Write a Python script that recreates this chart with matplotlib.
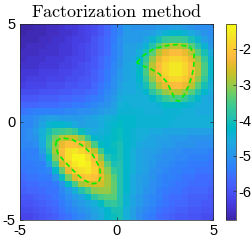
import numpy as np
import matplotlib
matplotlib.use('Agg')
import matplotlib.pyplot as plt
from matplotlib.colors import LinearSegmentedColormap

# log10 indicator on a 30x30 grid, first row is y=5 (top), first column x=-5
indicator = np.array([
    [-6.8,-6.8,-6.7,-6.7,-6.6,-6.6,-6.5,-6.4,-6.4,-6.3,-6.2,-6.1,-5.9,-5.7,-5.4,-5.2,-4.9,-5.0,-5.0,-5.0,-5.0,-4.9,-4.9,-4.8,-4.8,-4.9,-5.0,-5.1,-5.1,-5.1],
    [-6.8,-6.7,-6.7,-6.7,-6.6,-6.6,-6.5,-6.5,-6.4,-6.3,-6.2,-6.1,-5.9,-5.7,-5.4,-5.2,-4.9,-4.9,-4.9,-4.9,-4.8,-4.6,-4.4,-4.3,-4.3,-4.4,-4.6,-4.8,-5.0,-5.1],
    [-6.7,-6.7,-6.7,-6.6,-6.6,-6.5,-6.5,-6.4,-6.3,-6.3,-6.2,-6.0,-5.8,-5.6,-5.4,-5.1,-4.9,-4.9,-4.9,-4.7,-4.4,-4.0,-3.7,-3.6,-3.6,-3.7,-4.0,-4.4,-4.8,-5.0],
    [-6.7,-6.6,-6.6,-6.6,-6.5,-6.5,-6.4,-6.4,-6.3,-6.2,-6.1,-6.0,-5.8,-5.6,-5.3,-5.1,-4.8,-4.8,-4.7,-4.4,-3.9,-3.4,-3.0,-2.8,-2.8,-3.0,-3.4,-3.9,-4.4,-4.9],
    [-6.6,-6.6,-6.6,-6.5,-6.5,-6.5,-6.4,-6.4,-6.3,-6.2,-6.1,-6.0,-5.8,-5.6,-5.3,-5.1,-4.8,-4.8,-4.5,-4.0,-3.4,-2.8,-2.4,-2.2,-2.2,-2.4,-2.8,-3.4,-4.0,-4.6],
    [-6.6,-6.5,-6.5,-6.5,-6.4,-6.4,-6.4,-6.3,-6.2,-6.2,-6.1,-5.9,-5.7,-5.5,-5.3,-5.0,-4.8,-4.7,-4.3,-3.7,-3.0,-2.4,-2.0,-1.8,-1.8,-2.0,-2.4,-3.0,-3.7,-4.4],
    [-6.5,-6.5,-6.5,-6.4,-6.4,-6.4,-6.3,-6.3,-6.2,-6.1,-6.0,-5.9,-5.7,-5.5,-5.2,-5.0,-4.7,-4.6,-4.2,-3.5,-2.8,-2.2,-1.8,-1.6,-1.6,-1.8,-2.2,-2.8,-3.5,-4.3],
    [-6.4,-6.4,-6.4,-6.3,-6.3,-6.3,-6.2,-6.2,-6.1,-6.1,-6.0,-5.8,-5.6,-5.4,-5.2,-4.9,-4.7,-4.6,-4.2,-3.5,-2.8,-2.2,-1.8,-1.6,-1.6,-1.8,-2.2,-2.8,-3.5,-4.3],
    [-6.4,-6.3,-6.3,-6.3,-6.2,-6.2,-6.2,-6.1,-6.1,-6.0,-5.9,-5.8,-5.6,-5.4,-5.1,-4.9,-4.7,-4.6,-4.3,-3.7,-3.0,-2.4,-2.0,-1.8,-1.8,-2.0,-2.4,-3.0,-3.7,-4.4],
    [-6.3,-6.2,-6.2,-6.2,-6.1,-6.1,-6.1,-6.0,-6.0,-5.9,-5.9,-5.7,-5.5,-5.3,-5.1,-4.8,-4.6,-4.6,-4.4,-4.0,-3.4,-2.8,-2.4,-2.2,-2.2,-2.4,-2.8,-3.4,-4.0,-4.5],
    [-6.1,-6.1,-6.1,-6.0,-6.0,-6.0,-5.9,-5.9,-5.8,-5.8,-5.7,-5.6,-5.4,-5.2,-5.0,-4.7,-4.6,-4.6,-4.5,-4.3,-3.8,-3.4,-3.0,-2.8,-2.8,-3.0,-3.4,-3.9,-4.3,-4.6],
    [-5.9,-5.9,-5.9,-5.8,-5.8,-5.8,-5.7,-5.7,-5.6,-5.6,-5.5,-5.4,-5.3,-5.1,-4.9,-4.6,-4.5,-4.5,-4.5,-4.5,-4.3,-4.0,-3.7,-3.5,-3.5,-3.7,-4.0,-4.3,-4.6,-4.7],
    [-5.7,-5.7,-5.7,-5.6,-5.6,-5.6,-5.5,-5.5,-5.4,-5.4,-5.3,-5.2,-5.1,-5.0,-4.8,-4.5,-4.4,-4.5,-4.5,-4.5,-4.5,-4.4,-4.2,-4.2,-4.2,-4.3,-4.4,-4.5,-4.6,-4.6],
    [-5.5,-5.4,-5.3,-5.3,-5.3,-5.3,-5.3,-5.2,-5.2,-5.1,-5.1,-5.0,-4.9,-4.8,-4.7,-4.4,-4.4,-4.4,-4.4,-4.5,-4.5,-4.5,-4.4,-4.4,-4.4,-4.5,-4.5,-4.6,-4.6,-4.6],
    [-5.2,-5.2,-5.1,-4.9,-4.8,-4.8,-4.9,-4.9,-4.9,-4.9,-4.8,-4.7,-4.6,-4.5,-4.4,-4.3,-4.3,-4.3,-4.4,-4.4,-4.4,-4.4,-4.4,-4.4,-4.5,-4.5,-4.5,-4.5,-4.5,-4.5],
    [-5.2,-5.2,-5.0,-4.7,-4.4,-4.3,-4.3,-4.4,-4.6,-4.8,-4.7,-4.7,-4.6,-4.4,-4.3,-4.2,-4.3,-4.3,-4.4,-4.4,-4.4,-4.4,-4.4,-4.5,-4.5,-4.5,-4.5,-4.5,-4.5,-4.5],
    [-5.2,-5.1,-4.9,-4.5,-4.0,-3.7,-3.6,-3.5,-3.7,-4.1,-4.5,-4.6,-4.5,-4.4,-4.2,-4.1,-4.3,-4.4,-4.5,-4.5,-4.6,-4.6,-4.7,-4.7,-4.7,-4.7,-4.8,-4.8,-4.8,-4.8],
    [-5.2,-5.1,-5.0,-4.5,-3.8,-3.2,-2.8,-2.7,-2.7,-3.1,-3.7,-4.3,-4.4,-4.3,-4.2,-4.1,-4.3,-4.4,-4.5,-4.6,-4.7,-4.8,-4.8,-4.9,-4.9,-4.9,-5.0,-5.0,-5.0,-5.0],
    [-5.2,-5.2,-5.1,-4.6,-3.7,-3.0,-2.4,-2.1,-2.1,-2.3,-2.8,-3.5,-4.2,-4.3,-4.1,-4.0,-4.3,-4.4,-4.6,-4.7,-4.7,-4.8,-4.9,-4.9,-5.0,-5.0,-5.0,-5.1,-5.1,-5.1],
    [-5.3,-5.3,-5.3,-4.8,-3.9,-2.9,-2.2,-1.7,-1.6,-1.8,-2.1,-2.7,-3.6,-4.2,-4.2,-4.0,-4.3,-4.5,-4.7,-4.8,-4.8,-4.9,-5.0,-5.1,-5.1,-5.2,-5.2,-5.2,-5.2,-5.3],
    [-5.4,-5.3,-5.3,-5.1,-4.2,-3.1,-2.3,-1.7,-1.4,-1.4,-1.7,-2.2,-3.0,-3.9,-4.1,-4.0,-4.3,-4.5,-4.7,-4.8,-4.9,-5.0,-5.1,-5.1,-5.2,-5.2,-5.3,-5.3,-5.3,-5.4],
    [-5.4,-5.4,-5.3,-5.3,-4.7,-3.6,-2.6,-1.9,-1.6,-1.4,-1.5,-2.0,-2.6,-3.4,-4.0,-3.9,-4.3,-4.5,-4.7,-4.8,-4.9,-5.1,-5.1,-5.2,-5.3,-5.3,-5.4,-5.4,-5.4,-5.5],
    [-5.5,-5.4,-5.4,-5.3,-5.2,-4.3,-3.3,-2.4,-1.9,-1.7,-1.6,-1.9,-2.5,-3.1,-3.7,-3.9,-4.3,-4.5,-4.7,-4.8,-5.0,-5.1,-5.2,-5.3,-5.3,-5.4,-5.4,-5.5,-5.5,-5.5],
    [-5.6,-5.5,-5.5,-5.4,-5.4,-5.0,-4.1,-3.2,-2.5,-2.1,-2.0,-2.1,-2.4,-2.9,-3.4,-3.9,-4.3,-4.6,-4.8,-4.9,-5.0,-5.2,-5.3,-5.3,-5.4,-5.5,-5.5,-5.6,-5.6,-5.6],
    [-5.7,-5.6,-5.6,-5.5,-5.5,-5.4,-5.0,-4.2,-3.5,-2.9,-2.7,-2.6,-2.6,-2.9,-3.3,-3.9,-4.3,-4.6,-4.8,-4.9,-5.1,-5.2,-5.3,-5.4,-5.5,-5.5,-5.6,-5.6,-5.6,-5.7],
    [-5.8,-5.7,-5.7,-5.6,-5.5,-5.5,-5.2,-4.9,-4.5,-3.9,-3.5,-3.1,-3.0,-3.0,-3.3,-3.9,-4.3,-4.6,-4.8,-5.0,-5.1,-5.3,-5.4,-5.5,-5.5,-5.6,-5.7,-5.7,-5.7,-5.8],
    [-5.9,-5.9,-5.8,-5.7,-5.6,-5.5,-5.3,-5.1,-4.9,-4.7,-4.3,-3.8,-3.5,-3.4,-3.4,-3.9,-4.4,-4.7,-4.9,-5.1,-5.2,-5.3,-5.5,-5.6,-5.6,-5.7,-5.8,-5.8,-5.8,-5.9],
    [-6.0,-6.0,-5.9,-5.8,-5.7,-5.6,-5.4,-5.2,-5.0,-4.9,-4.7,-4.5,-4.2,-3.8,-3.7,-3.9,-4.4,-4.7,-4.9,-5.1,-5.2,-5.4,-5.5,-5.6,-5.7,-5.7,-5.8,-5.8,-5.9,-5.9],
    [-6.1,-6.1,-6.0,-5.9,-5.8,-5.7,-5.5,-5.3,-5.2,-5.0,-4.9,-4.7,-4.5,-4.3,-4.0,-4.0,-4.5,-4.8,-5.0,-5.2,-5.3,-5.5,-5.6,-5.7,-5.8,-5.8,-5.9,-5.9,-6.0,-6.0],
    [-6.2,-6.2,-6.1,-6.0,-5.9,-5.8,-5.6,-5.5,-5.3,-5.2,-5.0,-4.8,-4.6,-4.3,-4.1,-4.0,-4.5,-4.8,-5.1,-5.3,-5.4,-5.6,-5.7,-5.8,-5.9,-5.9,-6.0,-6.0,-6.1,-6.1],
])

extent = [-5, 5, -5, 5]
axis_ticks = [-5, 0, 5]
cbar_ticks = [-6, -5, -4, -3, -2]
clim = (-6.8, -1.3)

# boundaries of the two scatterers (green dashed)
obj1_x = [1.05, 1.40, 1.95, 2.60, 3.15, 3.80, 4.02, 4.00, 3.92, 3.75, 3.50, 3.25, 3.05, 2.85, 2.60, 2.22, 1.75, 1.35, 1.05]
obj1_y = [3.03, 3.40, 3.74, 3.90, 3.95, 3.84, 3.46, 2.85, 2.40, 1.88, 1.36, 1.06, 1.12, 1.55, 2.04, 2.45, 2.72, 2.87, 3.03]
obj2_x = [-3.12, -2.86, -2.30, -1.70, -1.22, -0.87, -0.82, -0.95, -1.30, -1.76, -2.30, -2.70, -3.03, -3.15, -3.12]
obj2_y = [-0.98, -0.81, -0.89, -1.24, -1.70, -2.33, -2.80, -3.12, -3.15, -2.92, -2.42, -2.01, -1.62, -1.24, -0.98]

# MATLAB parula (R2014b), 64 entries
parula_rgb = [
    [0.2422, 0.1504, 0.6603], [0.2504, 0.1650, 0.7076], [0.2578, 0.1818, 0.7511], [0.2647, 0.1978, 0.7952],
    [0.2706, 0.2147, 0.8364], [0.2751, 0.2342, 0.8710], [0.2783, 0.2559, 0.8991], [0.2803, 0.2782, 0.9221],
    [0.2813, 0.3006, 0.9414], [0.2810, 0.3228, 0.9579], [0.2795, 0.3447, 0.9717], [0.2760, 0.3667, 0.9829],
    [0.2699, 0.3892, 0.9906], [0.2602, 0.4123, 0.9952], [0.2440, 0.4358, 0.9988], [0.2206, 0.4603, 0.9973],
    [0.1963, 0.4847, 0.9892], [0.1834, 0.5074, 0.9798], [0.1786, 0.5289, 0.9682], [0.1764, 0.5499, 0.9520],
    [0.1687, 0.5703, 0.9359], [0.1540, 0.5902, 0.9218], [0.1460, 0.6091, 0.9079], [0.1380, 0.6276, 0.8973],
    [0.1248, 0.6459, 0.8883], [0.1113, 0.6635, 0.8763], [0.0952, 0.6798, 0.8598], [0.0689, 0.6948, 0.8394],
    [0.0297, 0.7082, 0.8163], [0.0036, 0.7203, 0.7917], [0.0067, 0.7312, 0.7660], [0.0433, 0.7411, 0.7394],
    [0.0964, 0.7500, 0.7120], [0.1408, 0.7584, 0.6842], [0.1717, 0.7670, 0.6554], [0.1938, 0.7758, 0.6251],
    [0.2161, 0.7843, 0.5923], [0.2470, 0.7918, 0.5567], [0.2906, 0.7973, 0.5188], [0.3406, 0.8008, 0.4789],
    [0.3909, 0.8029, 0.4354], [0.4456, 0.8024, 0.3909], [0.5044, 0.7993, 0.3480], [0.5616, 0.7942, 0.3045],
    [0.6174, 0.7876, 0.2612], [0.6720, 0.7793, 0.2227], [0.7242, 0.7698, 0.1910], [0.7738, 0.7598, 0.1646],
    [0.8203, 0.7498, 0.1535], [0.8634, 0.7406, 0.1596], [0.9035, 0.7330, 0.1774], [0.9393, 0.7288, 0.2100],
    [0.9728, 0.7298, 0.2394], [0.9956, 0.7434, 0.2371], [0.9970, 0.7659, 0.2199], [0.9952, 0.7893, 0.2028],
    [0.9892, 0.8136, 0.1885], [0.9786, 0.8386, 0.1766], [0.9676, 0.8639, 0.1643], [0.9610, 0.8890, 0.1537],
    [0.9597, 0.9135, 0.1423], [0.9628, 0.9373, 0.1265], [0.9691, 0.9606, 0.1064], [0.9769, 0.9839, 0.0805],
]
parula = LinearSegmentedColormap.from_list('parula', parula_rgb, N=256)

plt.rcParams['font.family'] = ['Liberation Sans', 'DejaVu Sans']
plt.rcParams['mathtext.fontset'] = 'cm'
plt.rcParams['axes.unicode_minus'] = False

fig = plt.figure(figsize=(2.53, 2.42), dpi=100)
ax = fig.add_axes([0.079, 0.091, 0.763, 0.81])
cax = fig.add_axes([0.893, 0.091, 0.0395, 0.81])

im = ax.imshow(indicator, extent=extent, origin='upper', cmap=parula,
               vmin=clim[0], vmax=clim[1], interpolation='nearest', aspect='auto')
ax.plot(obj1_x, obj1_y, color='#00f000', lw=1.2, dashes=(3, 2))
ax.plot(obj2_x, obj2_y, color='#00f000', lw=1.2, dashes=(3, 2))

ax.set_xlim(-5, 5)
ax.set_ylim(-5, 5)
ax.set_xticks(axis_ticks)
ax.set_yticks(axis_ticks)
ax.tick_params(direction='in', length=2.5, width=0.5, top=True, right=True,
               labelsize=10.5, pad=3, color='#262626')
for sp in ax.spines.values():
    sp.set_color('#262626')
    sp.set_linewidth(0.5)
ax.set_title(r'$\mathrm{Factorization\ method}$', fontsize=13, pad=5)

cb = fig.colorbar(im, cax=cax, ticks=cbar_ticks)
cb.outline.set_linewidth(0.5)
cb.outline.set_edgecolor('#262626')
cax.tick_params(direction='in', length=2.5, width=0.5, labelsize=10.5, pad=2, color='#262626')

fig.savefig('out.png', dpi=100)
